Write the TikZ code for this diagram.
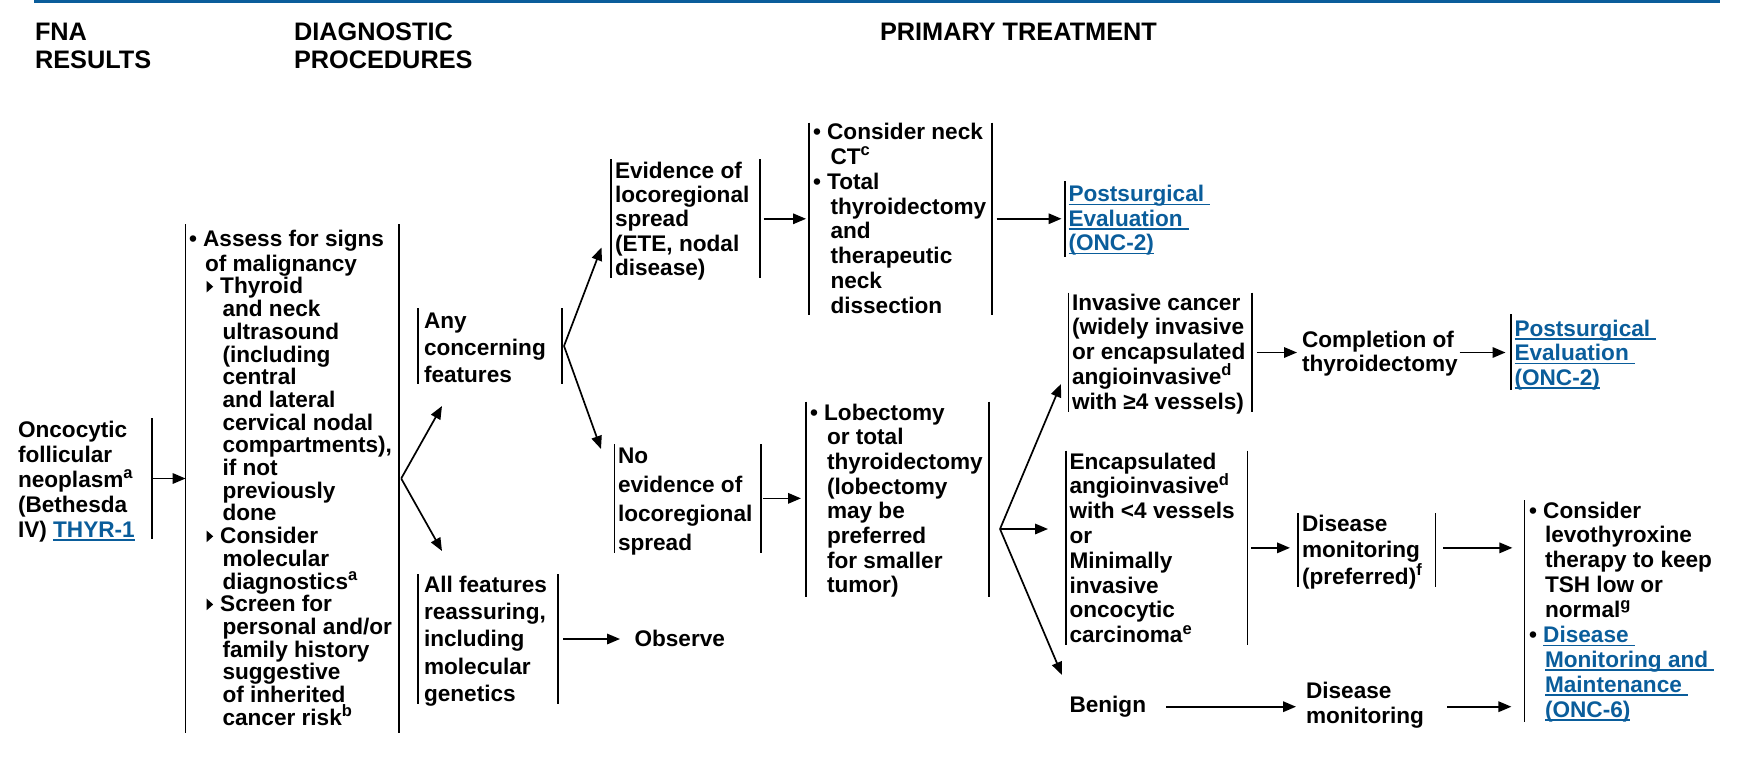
\documentclass[tikz,border=0pt]{standalone}
\usepackage{fontspec}
\setmainfont{Liberation Sans}
\usetikzlibrary{arrows.meta,calc,fit}
\definecolor{nccnblue}{RGB}{10,93,155}
\newcommand\blk[1]{\vtop{\lineskiplimit=-1000pt\let\\\cr\halign{##\hfil\cr#1\crcr}}}
\newcommand\ulx[1]{\leavevmode\setbox0\hbox{#1}\rlap{\vrule height -2pt depth 3.6pt width \wd0}\box0}
\newcommand\lk[1]{{\color{nccnblue}\ulx{#1}}}
\newcommand\sps[1]{\raise8.5pt\hbox{\fontsize{16.5}{16.5}\selectfont #1}}
\newcommand\tri{\tikz[x=1pt,y=1pt,baseline=0pt]\fill (0,1.5)--(0,13)--(6.5,7.25)--cycle;}
\begin{document}
\begin{tikzpicture}[x=1pt,y=-1pt,
  txt/.style={inner sep=0pt, outer sep=0pt, anchor=base west, font=\fontsize{22.6}{#1}\selectfont\bfseries},
  txt/.default=24.7,
  hd/.style={inner sep=0pt, outer sep=0pt, anchor=base west, font=\fontsize{25.3}{28}\selectfont\bfseries},
  ln/.style={line width=1.7pt},
  bx/.style={inner sep=0pt, outer sep=0pt},
  lr/.style={bx, append after command={(\tikzlastnode.north west) edge[ln] (\tikzlastnode.south west) (\tikzlastnode.north east) edge[ln] (\tikzlastnode.south east)}},
  lonly/.style={bx, append after command={(\tikzlastnode.north west) edge[ln] (\tikzlastnode.south west)}},
  ronly/.style={bx, append after command={(\tikzlastnode.north east) edge[ln] (\tikzlastnode.south east)}},
  arr/.style={ln, -{Triangle[length=13pt,width=10.5pt]}}
]
\useasboundingbox (0,0) rectangle (1742,784);
\fill[nccnblue] (34,0) rectangle (1720,3.5);

% headers
\node[hd] (h1) at (35,41) {\blk{FNA\\RESULTS}};
\node[hd] (h2) at (294,41) {\blk{DIAGNOSTIC\\PROCEDURES}};
\node[hd] (h3) at (880,41) {PRIMARY TREATMENT};

% bracket boxes
\node[ronly, fit={(17,418) (152.3,539)}] (onc) {};
\node[lr, fit={(185.6,224) (398.7,733)}] (assess) {};
\node[lr, fit={(418,308) (562,384)}] (any) {};
\node[lr, fit={(418,574) (558,704)}] (allf) {};
\node[lr, fit={(610.7,159.3) (759.7,278.3)}] (evid) {};
\node[lr, fit={(614.6,444) (761,552.7)}] (noev) {};
\node[lr, fit={(809,122.5) (991.7,315)}] (cons) {};
\node[lr, fit={(806,401.7) (989,596.7)}] (lob) {};
\node[lonly, fit={(1065,181) (1212,257)}] (ps1) {};
\node[lr, fit={(1068.6,292.7) (1251.8,412.3)}] (inv) {};
\node[lonly, fit={(1511,314) (1660,390)}] (ps2) {};
\node[lr, fit={(1066,450.7) (1247.5,645)}] (enc) {};
\node[lr, fit={(1298,513) (1435.4,587)}] (dmp) {};
\node[lonly, fit={(1524.4,500) (1720,721.7)}] (fin) {};

% texts
\node[txt=25] (oncT) at (18,437) {\blk{Oncocytic\\follicular\\neoplasm\sps{a}\\(Bethesda\\IV) \lk{THYR-1}}};
\node[txt=22.7] (assessT) at (189,246) {\blk{• Assess for signs\\\noalign{\kern2.5pt}
\kern16pt of malignancy\\
\kern17.7pt\tri\kern7pt Thyroid\\
\kern33.5pt and neck\\
\kern33.5pt ultrasound\\
\kern33.5pt (including\\
\kern33.5pt central\\
\kern33.5pt and lateral\\
\kern33.5pt cervical nodal\\
\kern33.5pt compartments),\\
\kern33.5pt if not\\
\kern33.5pt previously\\
\kern33.5pt done\\
\kern17.7pt\tri\kern7pt Consider\\
\kern33.5pt molecular\\
\kern33.5pt diagnostics\sps{a}\\
\kern17.7pt\tri\kern7pt Screen for\\
\kern33.5pt personal and/or\\
\kern33.5pt family history\\
\kern33.5pt suggestive\\
\kern33.5pt of inherited\\
\kern33.5pt cancer risk\sps{b}}};
\node[txt=27.2] (anyT) at (424,328) {\blk{Any\\concerning\\features}};
\node[txt=27.2] (allfT) at (424,592.5) {\blk{All features\\reassuring,\\including\\molecular\\genetics}};
\node[txt] (obsT) at (634.5,646) {Observe};
\node[txt=24.4] (evidT) at (615,178) {\blk{Evidence of\\locoregional\\spread\\(ETE, nodal\\disease)}};
\node[txt=29.2] (noevT) at (618,463) {\blk{No\\evidence of\\locoregional\\spread}};
\node[txt=24.85] (consT) at (813,139.5) {\blk{• Consider neck\\\kern17.5pt CT\sps{c}\\• Total\\\kern17.5pt thyroidectomy\\\kern17.5pt and\\\kern17.5pt therapeutic\\\kern17.5pt neck\\\kern17.5pt dissection}};
\node[txt=24.7] (lobT) at (810,420) {\blk{• Lobectomy\\\kern17pt or total\\\kern17pt thyroidectomy\\\kern17pt (lobectomy\\\kern17pt may be\\\kern17pt preferred\\\kern17pt for smaller\\\kern17pt tumor)}};
\node[txt=24.5] (ps1T) at (1068.5,201.7) {\blk{\lk{Postsurgical\ }\\\lk{Evaluation\ }\\\lk{(ONC-2)}}};
\node[txt=24.8] (invT) at (1072,310) {\blk{Invasive cancer\\(widely invasive\\or encapsulated\\angioinvasive\sps{d}\\with ≥4 vessels)}};
\node[txt=24.5] (compT) at (1302,347) {\blk{Completion of\\thyroidectomy}};
\node[txt=24.5] (ps2T) at (1514.5,336) {\blk{\lk{Postsurgical\ }\\\lk{Evaluation\ }\\\lk{(ONC-2)}}};
\node[txt=24.8] (encT) at (1069.5,469) {\blk{Encapsulated\\angioinvasive\sps{d}\\with <4 vessels\\or\\Minimally\\invasive\\oncocytic\\carcinoma\sps{e}}};
\node[txt=26.2] (dmpT) at (1302,531.7) {\blk{Disease\\monitoring\\(preferred)\sps{f}}};
\node[txt=24.9] (finT) at (1529,518) {\blk{• Consider\\\kern16pt levothyroxine\\\kern16pt therapy to keep\\\kern16pt TSH low or\\\kern16pt normal\sps{g}\\• \lk{Disease\ }\\\kern16pt\lk{Monitoring and\ }\\\kern16pt\lk{Maintenance\ }\\\kern16pt\lk{(ONC-6)}}};
\node[txt] (benT) at (1069.5,712.5) {Benign};
\node[txt=25] (dmT) at (1306,698.3) {\blk{Disease\\monitoring}};

% connectors
\draw[arr] (onc.east) -- (onc.east -| assess.west);
\coordinate (fA) at ([xshift=2.5pt]assess.east);
\coordinate (tA1) at (442,406);
\coordinate (tA2) at (442,551);
\draw[arr] (fA) -- (tA1);
\draw[arr] (fA) -- (tA2);
\coordinate (fB) at ([xshift=2pt]any.east);
\coordinate (tB1) at (601.5,247.5);
\coordinate (tB2) at (601,449);
\draw[arr] (fB) -- (tB1);
\draw[arr] (fB) -- (tB2);
\draw[arr, shorten <=5pt, shorten >=14.5pt] (allf.east) -- (allf.east -| obsT.west);
\draw[arr, shorten <=4pt, shorten >=3pt] (evid.east) -- (evid.east -| cons.west);
\draw[arr, shorten <=2pt, shorten >=5pt] (noev.east) -- (noev.east -| lob.west);
\draw[arr, shorten <=5pt, shorten >=3.5pt] (cons.east) -- (cons.east -| ps1.west);
\coordinate (fC) at (1000,529);
\coordinate (tC1) at (1061,384);
\coordinate (tC3) at (1062,675);
\draw[arr] (fC) -- (tC1);
\draw[arr, shorten >=18pt] (fC) -- (fC -| enc.west);
\draw[arr] (fC) -- (tC3);
\draw[arr, shorten <=5pt, shorten >=5pt] (inv.east) -- (inv.east -| compT.west);
\draw[arr, shorten <=2pt, shorten >=5.5pt] (inv.east -| compT.east) -- (inv.east -| ps2.west);
\draw[arr, shorten <=3.5pt, shorten >=8pt] (enc.east) -- (enc.east -| dmp.west);
\draw[arr, shorten <=8pt, shorten >=12pt] (enc.east -| dmp.east) -- (enc.east -| fin.west);
\draw[arr, shorten <=20pt, shorten >=10pt] (benT.east) -- (benT.east -| dmT.west);
\draw[arr, shorten <=23pt, shorten >=13pt] (benT.east -| dmT.east) -- (benT.east -| fin.west);
\end{tikzpicture}
\end{document}
